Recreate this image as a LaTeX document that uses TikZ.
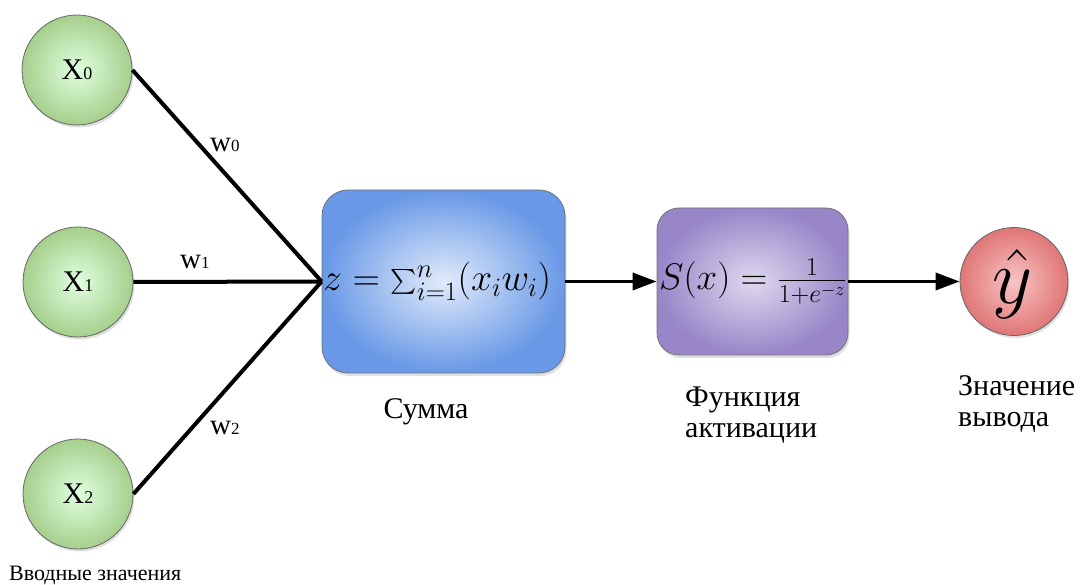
\RequirePackage{fix-cm}
\documentclass[tikz,border=0pt]{standalone}
\usepackage{exscale}
\usepackage[no-math]{fontspec}
\setmainfont{LiberationSerif}[Extension=.ttf,UprightFont=*-Regular,BoldFont=*-Bold,ItalicFont=*-Italic,BoldItalicFont=*-BoldItalic]
\usetikzlibrary{arrows.meta,shadows}
\begin{document}
\begin{tikzpicture}[x=1pt,y=-1pt,
  inp/.style={circle,draw=black!60,line width=0.8pt,minimum size=110pt,inner sep=0pt,
     inner color=green!12!white,outer color={rgb,255:red,166;green,207;blue,140},
     drop shadow={opacity=0.25,shadow xshift=1.5pt,shadow yshift=-2.5pt}},
  outp/.style={circle,draw=black!60,line width=0.8pt,minimum size=108pt,inner sep=0pt,
     inner color={rgb,255:red,248;green,196;blue,196},outer color={rgb,255:red,224;green,118;blue,118},
     drop shadow={opacity=0.25,shadow xshift=1.5pt,shadow yshift=-2.5pt}},
  sumbox/.style={rectangle,rounded corners=26pt,draw=black!55,line width=0.8pt,inner sep=0pt,
     minimum width=243pt,minimum height=183pt,
     inner color={rgb,255:red,225;green,235;blue,251},outer color={rgb,255:red,104;green,152;blue,230},
     drop shadow={opacity=0.25,shadow xshift=1.5pt,shadow yshift=-3pt}},
  actbox/.style={rectangle,rounded corners=22pt,draw=black!55,line width=0.8pt,inner sep=0pt,
     minimum width=191pt,minimum height=147pt,
     inner color={rgb,255:red,222;green,216;blue,238},outer color={rgb,255:red,152;green,134;blue,200},
     drop shadow={opacity=0.25,shadow xshift=1.5pt,shadow yshift=-3pt}},
  wire/.style={line width=4pt},
  arr/.style={line width=3.5pt,-{Triangle[length=24pt,width=17pt]}},
  lbl/.style={font=\fontsize{30}{31}\selectfont,inner sep=0pt},
  wlbl/.style={inner sep=0pt},
  formula/.style={inner sep=0pt,anchor=west}
]
\useasboundingbox (0,0) rectangle (1082,585);

\newcommand{\xlab}[1]{{\fontsize{30}{32}\selectfont X}{\fontsize{18}{20}\selectfont #1}}
\newcommand{\wlab}[1]{{\fontsize{29}{32}\selectfont w}{\fontsize{17}{20}\selectfont #1}}

\node[inp] (x0) at (77,70) {\xlab{0}};
\node[inp] (x1) at (78,282) {\xlab{1}};
\node[inp] (x2) at (78,494) {\xlab{2}};

\node[sumbox] (sum) at (443.5,281.5) {};
\node[formula] (sumf) at (323,281.5) {\fontsize{38}{44}\selectfont$z=\sum_{i=1}^n(x_iw_i)$};
\node[actbox] (act) at (752.5,281.5) {};
\node[formula] (actf) at (659,281.5) {\fontsize{37}{44}\selectfont$S(x)=\frac{1}{1+e^{-z}}$};
\node[outp] (y) at (1014,281.5) {};
\node[inner sep=0pt] (yf) at (1013,284) {\fontsize{78}{80}\selectfont$\hat{y}$};

\draw[wire] (x0.east) -- (sum.west);
\draw[wire] (x1.east) -- (sum.west);
\draw[wire] (x2.east) -- (sum.west);
\draw[arr] (sum.east) -- (act.west);
\draw[arr] (act.east) -- (y.west);

\node[wlbl,anchor=base west] (w0) at (210,152) {\wlab{0}};
\node[wlbl,anchor=base west] (w1) at (180,269) {\wlab{1}};
\node[wlbl,anchor=base west] (w2) at (210,434) {\wlab{2}};

\node[lbl,anchor=base] (tsum) at (426,418) {Сумма};
\node[lbl,anchor=base west,align=left] (tact) at (685,437) {Функция\\активации};
\node[lbl,anchor=base west,align=left] (tout) at (958,426) {Значение\\вывода};
\node[inner sep=0pt,anchor=base west,font=\fontsize{22}{24}\selectfont] (tin) at (9,580) {Вводные значения};
\end{tikzpicture}
\end{document}
